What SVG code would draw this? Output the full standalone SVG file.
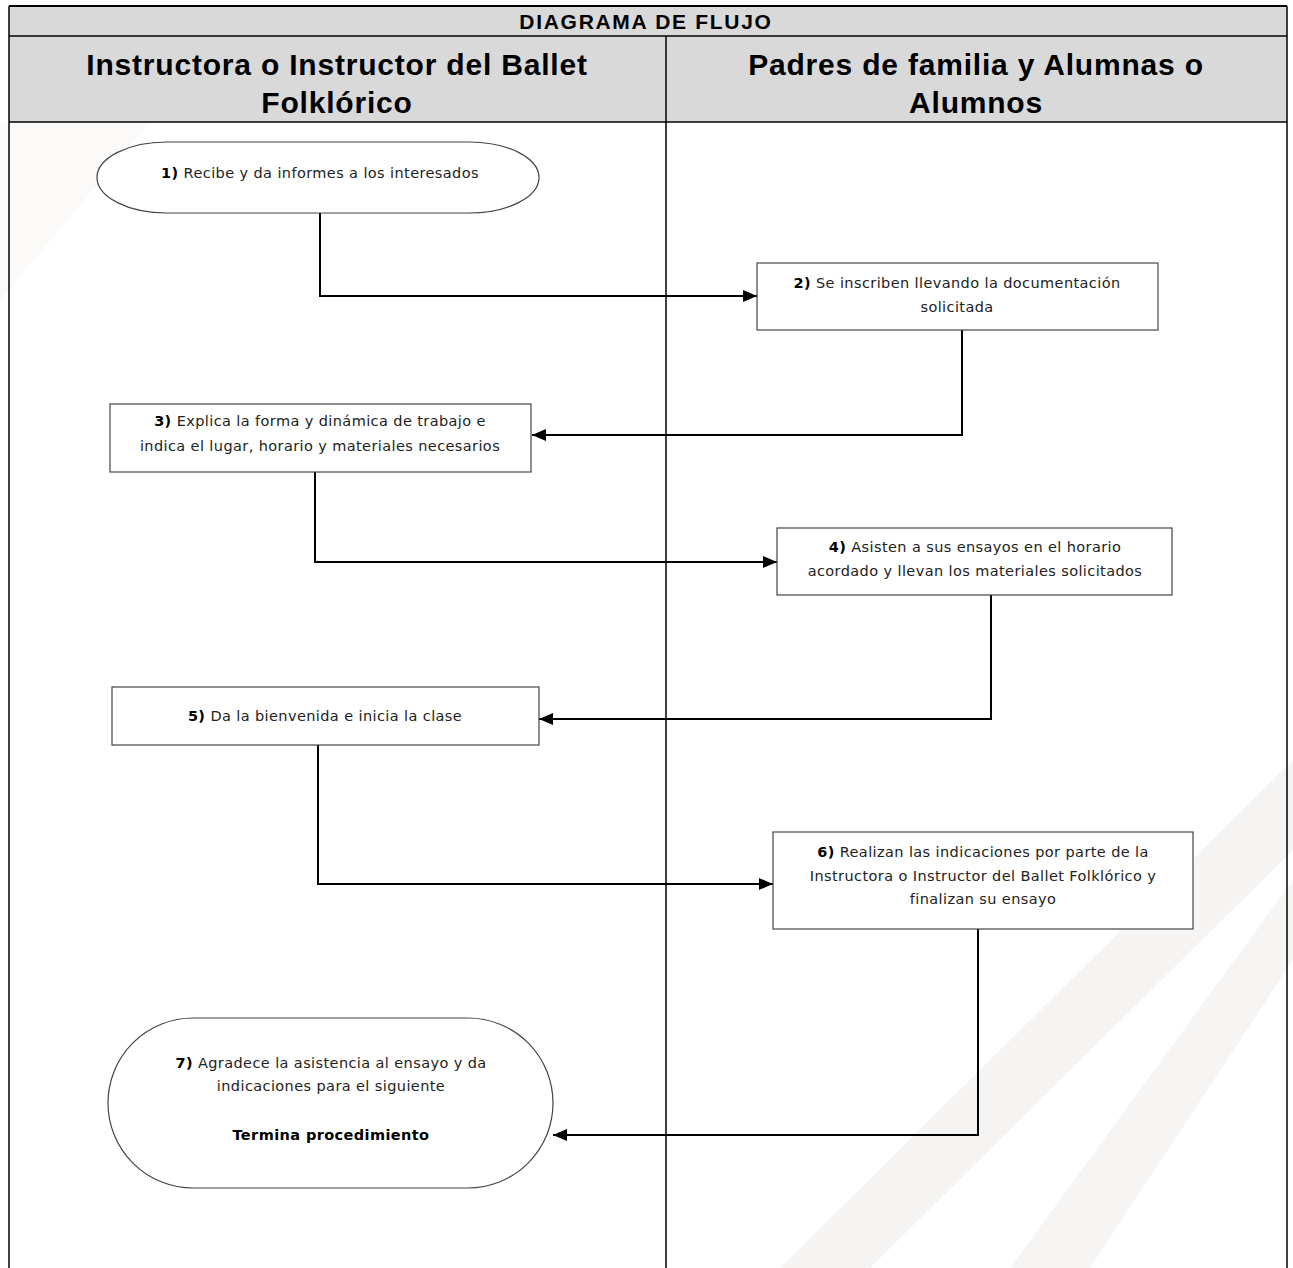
<svg xmlns="http://www.w3.org/2000/svg" width="1293" height="1268" viewBox="0 0 1293 1268">
<defs>
<style>
.t{font-family:"DejaVu Sans","Liberation Sans",Arial,sans-serif;font-size:14.5px;letter-spacing:0.4px;fill:#222;text-anchor:middle}
.b{font-weight:bold;fill:#000}
.h{font-family:"Liberation Sans",Arial,sans-serif;font-weight:bold;fill:#000;text-anchor:middle}
.n{fill:#fff;stroke:#444;stroke-width:1.2}
.c{fill:none;stroke:#000;stroke-width:2}
</style>
<marker id="ah" viewBox="0 0 14 12" refX="14" refY="6" markerWidth="14" markerHeight="12" markerUnits="userSpaceOnUse" orient="auto">
<path d="M0,0 L14,6 L0,12 Z" fill="#000"/>
</marker>
</defs>
<rect x="0" y="0" width="1293" height="1268" fill="#fff"/>
<g id="watermark">
<polygon points="1293,760 1293,850 870,1268 780,1268" fill="#f6f4f2"/>
<polygon points="1293,880 1293,960 1090,1268 1010,1268" fill="#f7f5f3"/>
<polygon points="0,122 150,122 0,300" fill="#fbfaf9"/>
</g>
<g id="table">
<rect x="9" y="6" width="1278" height="116" fill="#d9d9d9"/>
<line x1="9" y1="6" x2="1287" y2="6" stroke="#000" stroke-width="2"/>
<line x1="9" y1="36" x2="1287" y2="36" stroke="#000" stroke-width="1.5"/>
<line x1="9" y1="122" x2="1287" y2="122" stroke="#000" stroke-width="1.5"/>
<line x1="9" y1="6" x2="9" y2="1268" stroke="#000" stroke-width="1.5"/>
<line x1="1287" y1="6" x2="1287" y2="1268" stroke="#000" stroke-width="1.5"/>
<line x1="666" y1="36" x2="666" y2="1268" stroke="#000" stroke-width="1.5"/>
<text class="h" x="646" y="29" font-size="21" letter-spacing="1.7">DIAGRAMA DE FLUJO</text>
<text class="h" x="337" y="75" font-size="30" letter-spacing="0.8">Instructora o Instructor del Ballet</text>
<text class="h" x="337" y="113" font-size="30" letter-spacing="0.8">Folklórico</text>
<text class="h" x="976" y="75" font-size="30" letter-spacing="0.8">Padres de familia y Alumnas o</text>
<text class="h" x="976" y="113" font-size="30" letter-spacing="0.8">Alumnos</text>
</g>
<g id="connectors">
<polyline class="c" points="320,213 320,296 757,296" marker-end="url(#ah)"/>
<polyline class="c" points="962,330 962,435 532,435" marker-end="url(#ah)"/>
<polyline class="c" points="315,472 315,562 777,562" marker-end="url(#ah)"/>
<polyline class="c" points="991,595 991,719 539,719" marker-end="url(#ah)"/>
<polyline class="c" points="318,745 318,884 773,884" marker-end="url(#ah)"/>
<polyline class="c" points="978,929 978,1135 553,1135" marker-end="url(#ah)"/>
</g>
<g id="n1">
<rect class="n" x="97" y="142" width="442" height="71" rx="70" ry="35.5"/>
<text class="t" x="320" y="178"><tspan class="b">1)</tspan> Recibe y da informes a los interesados</text>
</g>
<g id="n2">
<rect class="n" x="757" y="263" width="401" height="67"/>
<text class="t" x="957" y="288"><tspan class="b">2)</tspan> Se inscriben llevando la documentación</text>
<text class="t" x="957" y="312">solicitada</text>
</g>
<g id="n3">
<rect class="n" x="110" y="404" width="421" height="68"/>
<text class="t" x="320" y="426"><tspan class="b">3)</tspan> Explica la forma y dinámica de trabajo e</text>
<text class="t" x="320" y="451">indica el lugar, horario y materiales necesarios</text>
</g>
<g id="n4">
<rect class="n" x="777" y="528" width="395" height="67"/>
<text class="t" x="975" y="552"><tspan class="b">4)</tspan> Asisten a sus ensayos en el horario</text>
<text class="t" x="975" y="576">acordado y llevan los materiales solicitados</text>
</g>
<g id="n5">
<rect class="n" x="112" y="687" width="427" height="58"/>
<text class="t" x="325" y="721"><tspan class="b">5)</tspan> Da la bienvenida e inicia la clase</text>
</g>
<g id="n6">
<rect class="n" x="773" y="832" width="420" height="97"/>
<text class="t" x="983" y="857"><tspan class="b">6)</tspan> Realizan las indicaciones por parte de la</text>
<text class="t" x="983" y="881">Instructora o Instructor del Ballet Folklórico y</text>
<text class="t" x="983" y="904">finalizan su ensayo</text>
</g>
<g id="n7">
<rect class="n" x="108" y="1018" width="445" height="170" rx="85" ry="85"/>
<text class="t" x="331" y="1068"><tspan class="b">7)</tspan> Agradece la asistencia al ensayo y da</text>
<text class="t" x="331" y="1091">indicaciones para el siguiente</text>
<text class="t b" x="331" y="1140">Termina procedimiento</text>
</g>
</svg>
